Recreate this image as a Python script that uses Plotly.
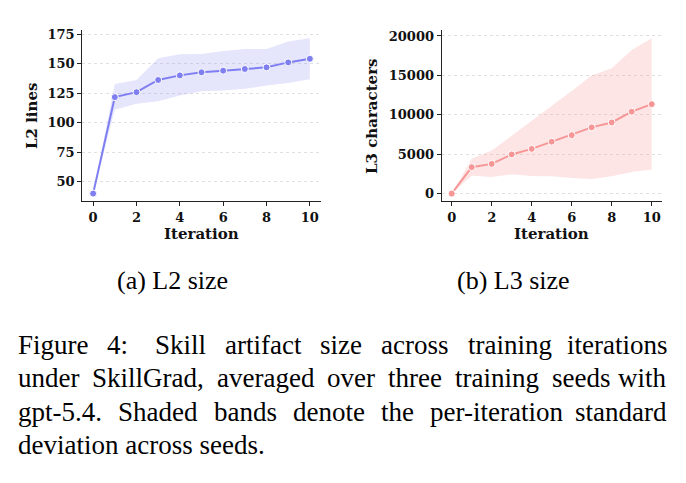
import plotly.graph_objects as go

W, H = 686, 483

iters = list(range(11))
l2_mean = [40, 121.6, 125.8, 136.1, 140, 142.6, 144, 145.4, 146.8, 151, 154]
l2_upper = [40, 132.8, 136.1, 154.6, 157.9, 158, 160.7, 162.4, 162.4, 168.6, 171.4]
l2_lower = [40, 111, 116, 118.2, 123, 126.6, 127.2, 128.6, 131.4, 133.6, 136.7]

l3_mean = [0, 3354, 3768, 4969, 5673, 6584, 7412, 8406, 9027, 10393, 11346]
l3_upper = [0, 4431, 5466, 7329, 9193, 11056, 13002, 14990, 15900, 18220, 19710]
l3_lower = [0, 2277, 2112, 2443, 2236, 2195, 1988, 1863, 2195, 2733, 3064]

x_ticks = [0, 2, 4, 6, 8, 10]
l2_ticks = [50, 75, 100, 125, 150, 175]
l3_ticks = [0, 5000, 10000, 15000, 20000]

subcaptions = ["(a) L2 size", "(b) L3 size"]
caption_lines = [
    ["Figure", "4:", "Skill", "artifact", "size", "across", "training", "iterations"],
    ["under", "SkillGrad,", "averaged", "over", "three", "training", "seeds", "with"],
    ["gpt-5.4.", "Shaded", "bands", "denote", "the", "per-iteration", "standard"],
    ["deviation", "across", "seeds."],
]

BLUE = "#7f7ff2"
BLUE_FILL = "rgba(127,127,242,0.2)"
RED = "#f79696"
RED_FILL = "rgba(247,150,150,0.25)"

fig = go.Figure()

def add_series(mean, up, lo, color, fill, xa, ya):
    fig.add_trace(go.Scatter(x=iters, y=up, mode="lines", line=dict(width=0, color=fill),
                             xaxis=xa, yaxis=ya, showlegend=False, hoverinfo="skip"))
    fig.add_trace(go.Scatter(x=iters, y=lo, mode="lines", line=dict(width=0, color=fill),
                             fill="tonexty", fillcolor=fill,
                             xaxis=xa, yaxis=ya, showlegend=False, hoverinfo="skip"))
    fig.add_trace(go.Scatter(x=iters, y=mean, mode="lines+markers",
                             line=dict(width=2, color=color),
                             marker=dict(size=7, color=color, line=dict(width=1, color="white")),
                             xaxis=xa, yaxis=ya, showlegend=False))

add_series(l2_mean, l2_upper, l2_lower, BLUE, BLUE_FILL, "x", "y")
add_series(l3_mean, l3_upper, l3_lower, RED, RED_FILL, "x2", "y2")

tickfont = dict(family="DejaVu Serif", size=13, color="#111", weight="bold")
titlefont = dict(family="DejaVu Serif", size=15, color="#111", weight="bold")

def px_x(p):
    return p / W

def px_y(p):
    return 1 - p / H

common_x = dict(range=[-0.5, 10.5], tickvals=x_ticks, showline=True, linecolor="#222", linewidth=1.2,
                ticks="outside", ticklen=4, tickwidth=1.1, tickcolor="#222", showgrid=False,
                zeroline=False, tickfont=tickfont)
common_y = dict(showline=True, linecolor="#222", linewidth=1.2, ticks="outside", ticklen=4,
                tickwidth=1.1, tickcolor="#222", showgrid=True, gridcolor="#e0e0e0", griddash="dot",
                gridwidth=0.8, zeroline=False, tickfont=tickfont, tickformat="d")

ydom = [px_y(199), px_y(26.7)]
fig.update_layout(
    width=W, height=H, margin=dict(l=0, r=0, t=0, b=0),
    paper_bgcolor="white", plot_bgcolor="white",
    xaxis=dict(domain=[px_x(82.3), px_x(320.7)], anchor="y", **common_x),
    yaxis=dict(domain=ydom, anchor="x", range=[33.4, 178], tickvals=l2_ticks, **common_y),
    xaxis2=dict(domain=[px_x(441.7), px_x(661.7)], anchor="y2", **common_x),
    yaxis2=dict(domain=ydom, anchor="x2", range=[-985, 20695], tickvals=l3_ticks, **common_y),
)

ann = []
for cx in [201.5, 551.7]:
    ann.append(dict(text="Iteration", x=px_x(cx), y=px_y(232), xref="paper", yref="paper",
                    xanchor="center", yanchor="middle", showarrow=False, font=titlefont))
ann.append(dict(text="L2 lines", x=px_x(32), y=px_y(113), xref="paper", yref="paper",
                xanchor="center", yanchor="middle", showarrow=False, font=titlefont, textangle=-90))
ann.append(dict(text="L3 characters", x=px_x(372), y=px_y(113), xref="paper", yref="paper",
                xanchor="center", yanchor="middle", showarrow=False, font=titlefont, textangle=-90))

capfont = dict(family="Liberation Serif", size=26, color="#000")
for cx, t in zip([172, 513], subcaptions):
    ann.append(dict(text=t, x=px_x(cx), y=px_y(279), xref="paper", yref="paper",
                    xanchor="center", yanchor="middle", showarrow=False, font=capfont))

# Times metrics (1/1000 em)
TW = {' ': 250, 'a': 444, 'b': 500, 'c': 444, 'd': 500, 'e': 444, 'f': 333, 'g': 500, 'h': 500,
      'i': 278, 'j': 278, 'k': 500, 'l': 278, 'm': 778, 'n': 500, 'o': 500, 'p': 500, 'q': 500,
      'r': 333, 's': 389, 't': 278, 'u': 500, 'v': 500, 'w': 722, 'x': 500, 'y': 500, 'z': 444,
      'F': 556, 'S': 556, 'G': 722, '4': 500, '5': 500, ':': 278, ',': 250, '.': 250, '-': 333}

CAP_SIZE = 27
def wwidth(w):
    return sum(TW.get(c, 500) for c in w) / 1000 * CAP_SIZE

left, right = 16, 669
baselines = [352, 385, 419, 453]
cfont = dict(family="Liberation Serif", size=CAP_SIZE, color="#000")
for li, words in enumerate(caption_lines):
    yc = px_y(baselines[li] - 8)
    justify = li < len(caption_lines) - 1
    widths = [wwidth(w) for w in words]
    if justify:
        gaps = len(words) - 1
        weights = [1.0] * gaps
        if li == 0:
            weights[1] = 1.4
        free = (right - left) - sum(widths)
        unit = free / sum(weights)
        xpos = left
        for i, w in enumerate(words):
            if i == len(words) - 1:
                ann.append(dict(text=w, x=px_x(right), y=yc, xref="paper", yref="paper",
                                xanchor="right", yanchor="middle", showarrow=False, font=cfont))
            else:
                ann.append(dict(text=w, x=px_x(xpos), y=yc, xref="paper", yref="paper",
                                xanchor="left", yanchor="middle", showarrow=False, font=cfont))
                xpos += widths[i] + unit * weights[i]
    else:
        ann.append(dict(text=" ".join(words), x=px_x(left), y=yc, xref="paper", yref="paper",
                        xanchor="left", yanchor="middle", showarrow=False, font=cfont))

fig.update_layout(annotations=ann)
fig.write_html("out.html")
